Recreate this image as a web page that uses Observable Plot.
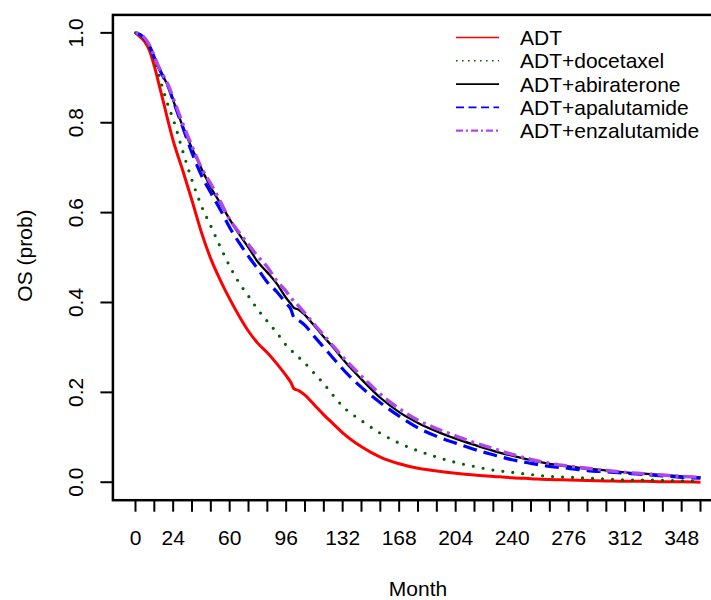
<!DOCTYPE html>
<html>
<head>
<meta charset="utf-8">
<script src="https://cdn.jsdelivr.net/npm/d3@7"></script>
<script src="https://cdn.jsdelivr.net/npm/@observablehq/plot@0.6"></script>
<style>
html, body { margin: 0; padding: 0; background: #fff; overflow: hidden; }
#wrap { position: relative; width: 711px; height: 600px; overflow: hidden; }
#legend { position: absolute; left: 0; top: 0; }
</style>
</head>
<body>
<div id="wrap"></div>
<script>
// ---- data ----
const months = [0,3,6,9,12,15,18,21,24,30,36,42,48,54,60,66,72,78,84,90,96,99,101,104,108,114,120,126,132,144,156,168,180,192,204,216,228,240,252,264,276,288,300,312,324,336,348,360];

const adt = [1.000,0.991,0.980,0.960,0.926,0.885,0.843,0.800,0.760,0.695,0.627,0.556,0.497,0.450,0.408,0.370,0.336,0.309,0.288,0.264,0.237,0.222,0.208,0.204,0.194,0.172,0.150,0.130,0.110,0.079,0.056,0.041,0.031,0.025,0.020,0.016,0.013,0.010,0.008,0.006,0.005,0.004,0.003,0.002,0.002,0.001,0.001,0.000];

const docetaxel = [1.000,0.994,0.983,0.965,0.940,0.905,0.869,0.836,0.808,0.738,0.672,0.615,0.570,0.524,0.481,0.444,0.414,0.384,0.358,0.333,0.305,0.295,0.287,0.278,0.265,0.242,0.219,0.193,0.169,0.137,0.109,0.087,0.070,0.056,0.044,0.035,0.027,0.022,0.017,0.013,0.011,0.009,0.007,0.005,0.005,0.004,0.003,0.002];

const abiraterone = [1.000,0.996,0.986,0.970,0.945,0.921,0.900,0.880,0.850,0.793,0.743,0.698,0.656,0.621,0.585,0.552,0.522,0.490,0.467,0.442,0.410,0.397,0.388,0.384,0.372,0.348,0.323,0.300,0.274,0.229,0.188,0.156,0.132,0.113,0.097,0.083,0.070,0.059,0.049,0.041,0.035,0.030,0.026,0.022,0.019,0.016,0.013,0.011];

const apalutamide = [1.000,0.996,0.986,0.970,0.945,0.921,0.900,0.879,0.849,0.791,0.733,0.683,0.644,0.607,0.567,0.533,0.503,0.474,0.445,0.424,0.398,0.385,0.366,0.360,0.349,0.324,0.300,0.276,0.252,0.211,0.177,0.147,0.121,0.102,0.087,0.073,0.061,0.050,0.042,0.035,0.031,0.026,0.023,0.020,0.017,0.014,0.011,0.009];

const enzalutamide = [1.000,0.997,0.988,0.972,0.948,0.923,0.903,0.883,0.855,0.799,0.748,0.700,0.664,0.625,0.585,0.556,0.529,0.502,0.479,0.448,0.425,0.410,0.403,0.392,0.376,0.351,0.327,0.303,0.279,0.236,0.196,0.164,0.138,0.119,0.103,0.088,0.075,0.062,0.051,0.042,0.036,0.031,0.026,0.022,0.019,0.016,0.013,0.011];

const seriesNames = ["ADT", "ADT+docetaxel", "ADT+abiraterone", "ADT+apalutamide", "ADT+enzalutamide"];
const seriesColors = ["#ff0000", "#006400", "#000000", "#0000ff", "#b048f0"];

const xTicks = d3.range(0, 361, 12);
const xLabels = [0, 24, 60, 96, 132, 168, 204, 240, 276, 312, 348];
const yTicks = [0, 0.2, 0.4, 0.6, 0.8, 1.0];

// ---- build table ----
const seriesValues = [adt, docetaxel, abiraterone, apalutamide, enzalutamide];
const table = seriesNames.flatMap((name, i) =>
  months.map((m, j) => ({series: name, month: m, os: seriesValues[i][j]}))
);

// line styles (curves and legend)
const curveStyle = [
  {strokeWidth: 3, strokeDasharray: null, strokeLinecap: "butt"},
  {strokeWidth: 3.2, strokeDasharray: "0 10", strokeLinecap: "round"},
  {strokeWidth: 2.3, strokeDasharray: null, strokeLinecap: "butt"},
  {strokeWidth: 3.2, strokeDasharray: "14 7", strokeLinecap: "butt"},
  {strokeWidth: 3.4, strokeDasharray: "3 5 13 5", strokeLinecap: "butt"}
];
const legendStyle = [
  {w: 1.6, dash: null},
  {w: 1.6, dash: "1.6 4.4"},
  {w: 1.6, dash: null},
  {w: 1.8, dash: "8 4.5"},
  {w: 2.2, dash: "7 3 2 3"}
];

const FONT = "'Liberation Sans', Arial, Helvetica, sans-serif";

const lineMarks = seriesNames.map((name, i) =>
  Plot.line(table.filter(d => d.series === name), {
    x: "month", y: "os",
    curve: "monotone-x",
    stroke: seriesColors[i],
    strokeWidth: curveStyle[i].strokeWidth,
    strokeDasharray: curveStyle[i].strokeDasharray,
    strokeLinecap: curveStyle[i].strokeLinecap,
    strokeLinejoin: "round"
  })
);

const chart = Plot.plot({
  width: 711,
  height: 600,
  marginLeft: 112.4,
  marginRight: -11.6,
  marginTop: 14.4,
  marginBottom: 100.3,
  style: {fontFamily: FONT, fontSize: "21px", background: "#fff", color: "#000"},
  x: {domain: [-14.4, 374.4]},
  y: {domain: [-0.04, 1.04]},
  marks: [
    ...lineMarks,
    Plot.frame({stroke: "#000", strokeWidth: 2.5}),
    Plot.axisX({
      ticks: xTicks, tickSize: 12, tickPadding: 18.3, strokeWidth: 2,
      tickFormat: d => xLabels.includes(d) ? String(d) : "",
      fontSize: 21, label: null
    }),
    Plot.axisY({
      ticks: yTicks, tickSize: 12, strokeWidth: 2,
      tickFormat: () => "", label: null
    }),
    Plot.text(yTicks, {
      y: d => d, text: d => d.toFixed(1), frameAnchor: "left",
      dx: -36.4, rotate: -90, fontSize: 21,
      textAnchor: "middle", lineAnchor: "middle", fill: "#000"
    }),
    Plot.text(["OS (prob)"], {
      text: d => d, frameAnchor: "left", dx: -87.5, dy: -2, rotate: -90,
      fontSize: 21, textAnchor: "middle", lineAnchor: "middle", fill: "#000"
    }),
    Plot.text(["Month"], {
      text: d => d, frameAnchor: "bottom", dy: 89.5,
      fontSize: 21, textAnchor: "middle", lineAnchor: "middle", fill: "#000"
    })
  ]
});

const wrap = document.getElementById("wrap");
wrap.appendChild(chart);

// ---- legend overlay ----
const leg = d3.select(wrap).append("svg")
  .attr("id", "legend")
  .attr("width", 711).attr("height", 160)
  .style("font-family", FONT);
const rows = leg.selectAll("g").data(seriesNames).join("g")
  .attr("transform", (d, i) => `translate(456, ${37.5 + i * 23.3})`);
rows.append("line")
  .attr("x1", 0).attr("x2", 43).attr("y1", 0).attr("y2", 0)
  .attr("stroke", (d, i) => seriesColors[i])
  .attr("stroke-width", (d, i) => legendStyle[i].w)
  .attr("stroke-dasharray", (d, i) => legendStyle[i].dash);
rows.append("text")
  .attr("x", 64).attr("y", 7.5)
  .attr("font-size", 21)
  .attr("fill", "#000")
  .text(d => d);
</script>
</body>
</html>
